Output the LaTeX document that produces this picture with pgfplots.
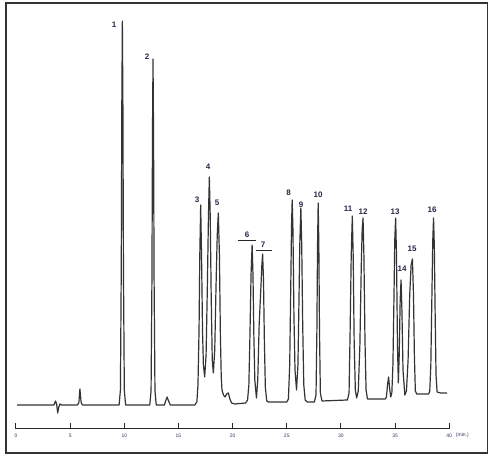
\documentclass[border=0pt]{standalone}
\usepackage{fontspec}
\setmainfont{Liberation Sans}
\usepackage{pgfplots}
\pgfplotsset{compat=1.18}
\begin{document}
\begin{tikzpicture}
\begin{axis}[
  scale only axis,
  width=481.5pt, height=450pt,
  xmin=-0.923, xmax=43.53,
  ymin=-48, ymax=402,
  xtick=\empty, ytick=\empty,
  axis line style={black!80, line width=1.6pt},
  clip=false,
]
% bounding box of the whole picture
\path (axis cs:-1.477,-54) rectangle (axis cs:44.04,405);
% chromatogram trace
\addplot[black!80, line width=1.2pt, line join=round, mark=none] coordinates {
(0.1,0) (3.5,0) (3.65,4) (3.75,1) (3.85,-8) (3.95,-2) (4.05,1) (4.2,0)
(5.65,0) (5.8,2) (5.86,10) (5.9,16) (5.95,10) (6.02,2) (6.15,0)
(9.52,0) (9.64,15) (9.72,138) (9.77,300) (9.82,384) (9.87,300) (9.92,138) (10.0,15) (10.12,0)
(12.35,0) (12.47,14) (12.55,125) (12.60,270) (12.65,346) (12.70,270) (12.75,125) (12.83,14) (12.95,0)
(13.7,0) (13.85,5) (13.95,8) (14.05,5) (14.25,0)
(16.5,0) (16.7,3) (16.8,20) (16.9,75) (16.97,150) (17.05,200) (17.13,150) (17.22,75) (17.3,40) (17.42,28)
(17.55,50) (17.67,120) (17.77,190) (17.85,228) (17.93,190) (18.02,110) (18.12,45) (18.22,32)
(18.35,55) (18.47,120) (18.58,170) (18.68,192) (18.78,150) (18.87,70) (18.95,28) (19.02,15)
(19.15,10) (19.3,8) (19.45,11) (19.6,12) (19.75,6) (19.9,2) (20.2,1)
(21.2,2) (21.38,5) (21.5,20) (21.6,70) (21.7,130) (21.8,160) (21.88,130) (21.96,70) (22.05,25) (22.2,7)
(22.32,25) (22.45,80) (22.6,115) (22.7,140) (22.77,151) (22.85,125) (22.93,65) (23.02,18) (23.15,4) (23.3,3)
(25.0,3) (25.15,6) (25.27,40) (25.37,120) (25.44,180) (25.5,205) (25.57,175) (25.66,90) (25.76,35) (25.9,15)
(26.03,40) (26.12,100) (26.2,160) (26.3,197) (26.38,160) (26.47,80) (26.57,20) (26.7,5) (26.9,3)
(27.55,3) (27.7,10) (27.78,75) (27.84,160) (27.9,202) (27.96,160) (28.02,75) (28.1,12) (28.25,4)
(30.6,5) (30.75,12) (30.85,75) (30.95,150) (31.05,189) (31.13,150) (31.22,65) (31.33,15) (31.45,7)
(31.6,14) (31.75,60) (31.88,140) (31.96,175) (32.04,187) (32.12,150) (32.22,65) (32.32,15) (32.45,6)
(33.5,6) (34.1,6) (34.2,8) (34.3,20) (34.4,28) (34.5,16) (34.6,8)
(34.7,12) (34.8,40) (34.9,110) (34.97,165) (35.05,187) (35.13,150) (35.22,60) (35.3,22)
(35.38,50) (35.47,105) (35.55,125) (35.63,95) (35.73,35) (35.9,10)
(36.05,14) (36.2,45) (36.35,110) (36.48,140) (36.6,146) (36.7,110) (36.78,50) (36.87,14) (37.0,11)
(38.1,11) (38.2,14) (38.3,40) (38.4,110) (38.48,165) (38.55,187) (38.62,160) (38.7,90) (38.78,30) (38.88,13)
(39.2,12) (39.8,12)
};
% time scale
\draw[black!85, line width=1pt] (axis cs:0,-24) -- (axis cs:40,-24);
\pgfplotsinvokeforeach{0,5,10,15,20,25,30,35,40}{
  \draw[black!85, line width=1pt] (axis cs:#1,-24) -- (axis cs:#1,-18);
  \node[font=\fontsize{5}{5}\selectfont, text=black!70!blue!60!gray] at (axis cs:#1,-30.5) {#1};
}
\node[anchor=west, font=\fontsize{5}{5}\selectfont, text=black!70!blue!60!gray, inner sep=0pt] at (axis cs:40.6,-30) {(min.)};
% peak labels
\begin{scope}[every node/.style={font=\fontsize{8}{8}\selectfont\bfseries, text=black!80!blue!70!gray, inner sep=0pt}]
\node at (axis cs:9.05,380) {1};
\node at (axis cs:12.1,348) {2};
\node at (axis cs:16.71,205) {3};
\node at (axis cs:17.73,238) {4};
\node at (axis cs:18.56,202) {5};
\node at (axis cs:21.33,170) {6};
\node at (axis cs:22.81,160) {7};
\node at (axis cs:25.16,212) {8};
\node at (axis cs:26.32,200) {9};
\node at (axis cs:27.89,210) {10};
\node at (axis cs:30.66,196) {11};
\node at (axis cs:32.04,193) {12};
\node at (axis cs:35.0,193) {13};
\node at (axis cs:35.64,136) {14};
\node at (axis cs:36.57,156) {15};
\node at (axis cs:38.41,195) {16};
\end{scope}
\draw[black!85, line width=1pt] (axis cs:20.5,164) -- (axis cs:22.16,164);
\draw[black!85, line width=1pt] (axis cs:22.16,154) -- (axis cs:23.64,154);
\end{axis}
\end{tikzpicture}
\end{document}
